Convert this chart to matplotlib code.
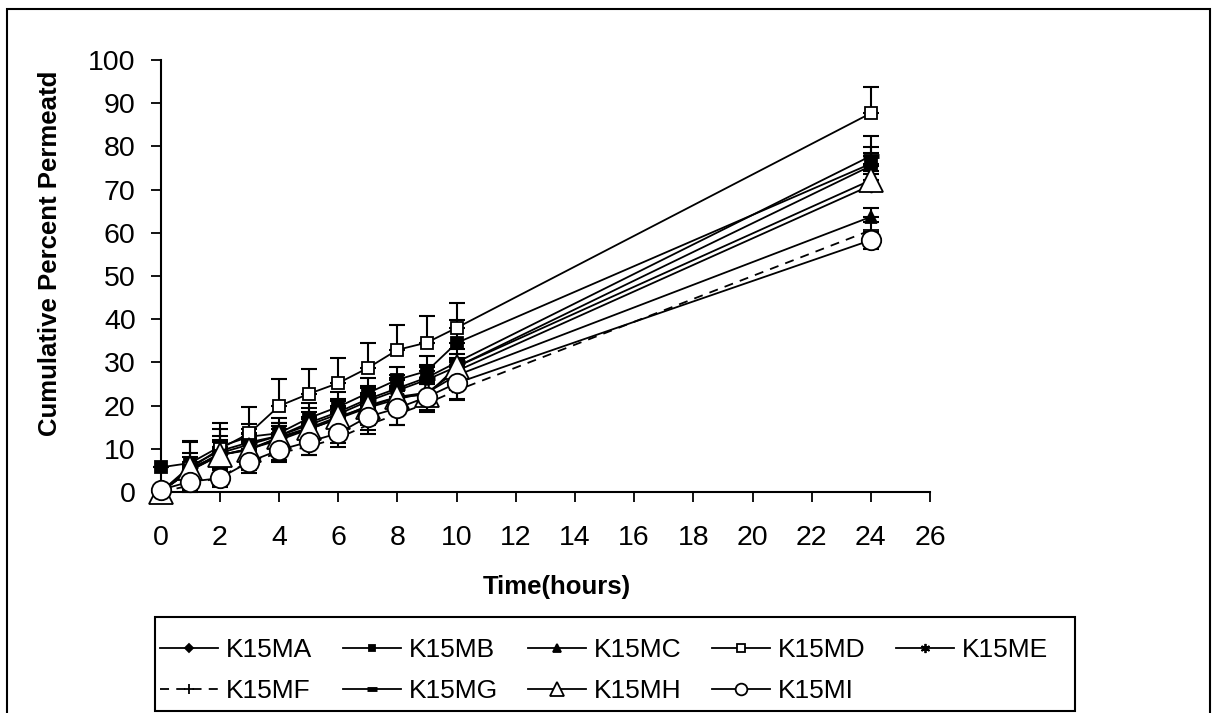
import numpy as np
import matplotlib
matplotlib.use("Agg")
import matplotlib.pyplot as plt
from matplotlib.patches import Rectangle

plt.rcParams['font.family'] = ['Liberation Sans', 'DejaVu Sans']

time = [0, 1, 2, 3, 4, 5, 6, 7, 8, 9, 10, 24]

k15ma = [0, 5, 9, 11, 13, 15.5, 18, 21, 23.5, 26, 29, 75.5]
k15mb = [5.7, 6.7, 10.5, 12.8, 13.6, 17.1, 19.7, 22.9, 26, 28, 34.5, 76]
k15mc = [0, 5, 8.5, 10, 12.5, 14.5, 17, 19.5, 21.5, 23, 27, 63.7]
k15md = [0, 5.5, 10, 13.6, 19.9, 22.7, 25.2, 28.7, 32.9, 34.6, 38, 87.7]
k15me = [0, 5, 8.5, 10, 12, 14.5, 17, 20, 22, 23, 28, 71]
k15mf = [0, 1.5, 3.5, 7, 9, 10.5, 12.5, 15.5, 18, 20.5, 23.5, 60.6]
k15mg = [0, 6, 9.5, 11.5, 13, 16, 18.5, 21.5, 24, 26.5, 30, 77.8]
k15mh = [0, 5.5, 8.6, 9.7, 12.7, 14.8, 17.4, 19.7, 22, 22.5, 29, 72.2]
k15mi = [0.5, 2.4, 3.2, 7, 9.7, 11.6, 13.6, 17.4, 19.4, 22, 25.2, 58.3]

err_ma = [0, 2, 3, 2.5, 3, 3, 3, 3, 3, 3, 3, 3]
err_mb = [0, 5, 4, 3, 3.5, 3.5, 3.5, 3.5, 3, 3.5, 5.2, 6.5]
err_mc = [0, 1.5, 2, 2, 2, 2.5, 2.5, 2.5, 2.5, 2.5, 2.5, 2]
err_md = [0, 6, 6, 6, 6.3, 5.8, 5.8, 5.8, 5.8, 6.1, 5.8, 6]
err_me = [0, 2, 2, 2, 2.5, 2.5, 2.5, 2.5, 2.5, 2.5, 2.5, 2.5]
err_mf = [0, 1.5, 2, 2, 2, 2, 2, 2, 2.5, 2, 2, 2]
err_mg = [0, 3, 3.5, 3, 3, 3.5, 3, 3, 3, 3, 3, 2]
err_mh = [0, 2.5, 3, 2.5, 2.5, 2.5, 2.5, 2.5, 2.5, 2.5, 2, 2]
err_mi = [0.5, 2, 2, 2.5, 2.3, 3, 2.3, 3.1, 3.9, 3, 3.9, 2]

names = ["K15MA", "K15MB", "K15MC", "K15MD", "K15ME",
         "K15MF", "K15MG", "K15MH", "K15MI"]

# (values, errors, both-sided?, marker, size, facecolor, linestyle)
series = [
    (k15ma, err_ma, False, 'D', 7, 'black', '-'),
    (k15mb, err_mb, False, 's', 8, 'black', '-'),
    (k15mc, err_mc, False, '^', 9, 'black', '-'),
    (k15md, err_md, False, 's', 9, 'white', '-'),
    (k15me, err_me, False, (6, 2, 0), 11, 'black', '-'),
    (k15mf, err_mf, True, '+', 12, 'black', (0, (5, 4))),
    (k15mg, err_mg, False, '_', 12, 'black', '-'),
    (k15mh, err_mh, False, '^', 17, 'white', '-'),
    (k15mi, err_mi, True, 'o', 14, 'white', '-'),
]

W, H = 1219, 713
fig = plt.figure(figsize=(W / 100, H / 100), dpi=100)
ax = fig.add_axes([0.1318, 0.310, 0.7630 - 0.1318, 0.9158 - 0.310])

handles = []
for i, (vals, err, both, mk, ms, fc, ls) in enumerate(series):
    lower = err if both else [0] * len(err)
    ax.errorbar(time, vals, yerr=[lower, err], fmt='none', ecolor='black',
                elinewidth=1.5, capsize=6, capthick=1.5, zorder=2 + i * 0.1,
                clip_on=False)
    mew = 3.5 if mk == '_' else 1.3
    ln, = ax.plot(time, vals, color='black', linestyle=ls, linewidth=1.3,
                  marker=mk, markersize=ms, markerfacecolor=fc,
                  markeredgecolor='black', markeredgewidth=mew,
                  zorder=3 + i * 0.1, clip_on=False, label=names[i])
    handles.append(ln)

ax.set_xlim(0, 26)
ax.set_ylim(0, 100)
ax.set_xticks(np.arange(0, 27, 2))
ax.set_yticks(np.arange(0, 101, 10))
ax.spines['top'].set_visible(False)
ax.spines['right'].set_visible(False)
for s in ['left', 'bottom']:
    ax.spines[s].set_linewidth(1.5)
ax.tick_params(axis='both', direction='out', length=7, width=1.3,
               labelsize=20.5)
ax.tick_params(axis='x', pad=17)
ax.tick_params(axis='y', pad=11)

fig.text(557 / W, 1 - 587 / H, "Time(hours)", fontsize=18.5,
         fontweight='bold', ha='center', va='center')
fig.text(50 / W, 1 - 253 / H, "Cumulative Percent Permeatd",
         fontsize=18.5, fontweight='bold', rotation=90,
         ha='center', va='center')

# legend is filled column by column, so reorder to read row by row
order = [0, 5, 1, 6, 2, 7, 3, 8, 4]
leg = fig.legend(handles=[handles[j] for j in order], ncol=5,
                 loc='upper left',
                 bbox_to_anchor=(160 / W, 1 - 638 / H),
                 fontsize=19, frameon=False, handlelength=2.2,
                 handletextpad=0.3, columnspacing=1.15, labelspacing=0.65,
                 borderpad=0, borderaxespad=0, markerscale=0.6)

# legend box and outer chart border
fig.patches.append(Rectangle((155 / W, 1 - 711 / H), (1075 - 155) / W,
                             (711 - 617) / H, transform=fig.transFigure,
                             fill=False, edgecolor='black', linewidth=1.5))
fig.patches.append(Rectangle((7 / W, -0.1), (1210 - 7) / W,
                             1 - 9 / H + 0.1, transform=fig.transFigure,
                             fill=False, edgecolor='black', linewidth=1.5))

fig.savefig("out.png", dpi=100)
